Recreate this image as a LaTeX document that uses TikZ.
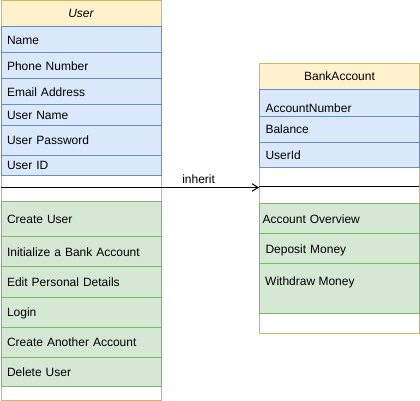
\documentclass[tikz,border=0pt]{standalone}
\usepackage{fontspec}
\setmainfont{Liberation Sans}
\usetikzlibrary{arrows.meta}
\definecolor{headfill}{HTML}{FFF2CC}
\definecolor{headline}{HTML}{D6B656}
\definecolor{attrfill}{HTML}{DAE8FC}
\definecolor{attrline}{HTML}{6C8EBF}
\definecolor{opfill}{HTML}{D5E8D4}
\definecolor{opline}{HTML}{82B366}

\begin{document}
\begin{tikzpicture}[x=1pt,y=-1pt,
font=\fontsize{12}{14}\selectfont,
classnode/.style={draw=headline, fill=white, line width=1pt, anchor=north west, minimum width=160pt, inner sep=0pt,},
headnode/.style={classnode, fill=headfill,},
attrnode/.style={draw=attrline, fill=attrfill, line width=1pt, anchor=north west, text width=148pt, align=left, inner xsep=6pt, inner ysep=0pt, text height=9.6pt, text depth=0pt,},
opnode/.style={attrnode, draw=opline, fill=opfill,},
inheritarrow/.style={line width=1pt, -{Straight Barb[length=6pt,width=7.5pt]},}
]
    \useasboundingbox (0,0) rectangle (420,401);

    \node [classnode, minimum height=399.5pt] (user) at (0.5,0.5) {};
    \node [headnode, minimum height=25.5pt, font=\fontsize{12}{14}\selectfont\itshape] (userhead) at (0.5,0.5) {User};

    \node [attrnode, minimum height=26pt] (name) at (0.5,26) {Name};
    \node [attrnode, minimum height=26pt] (phone) at (0.5,52) {Phone Number};
    \node [attrnode, minimum height=26pt] (email) at (0.5,78) {Email Address};
    \node [attrnode, minimum height=20.6pt] (uname) at (0.5,104) {User Name};
    \node [attrnode, minimum height=30pt] (upass) at (0.5,124.6) {User Password};
    \node [attrnode, minimum height=20pt] (uid) at (0.5,154.6) {User ID};

    \node [opnode, minimum height=35pt] (create) at (0.5,200.7) {Create User};
    \node [opnode, minimum height=30.3pt] (initbank) at (0.5,235.7) {Initialize a Bank Account};
    \node [opnode, minimum height=30.5pt] (edit) at (0.5,266) {Edit Personal Details};
    \node [opnode, minimum height=30pt] (login) at (0.5,296.5) {Login};
    \node [opnode, minimum height=30pt] (another) at (0.5,326.5) {Create Another Account};
    \node [opnode, minimum height=29.5pt] (delete) at (0.5,356.5) {Delete User};

    \node [classnode, minimum height=270pt] (bank) at (259,63.3) {};
    \node [headnode, minimum height=25.7pt] (bankhead) at (259,63.3) {BankAccount};

    \node [attrnode, minimum height=26.7pt, text height=18.4pt] (accnum) at (259,89) {AccountNumber};
    \node [attrnode, minimum height=26pt] (balance) at (259,115.7) {Balance};
    \node [attrnode, minimum height=25.6pt] (userid) at (259,141.7) {UserId};

    \node [opnode, minimum height=30pt, inner xsep=3pt, text width=154pt] (overview) at (259,203.3) {Account Overview};
    \node [opnode, minimum height=30pt] (deposit) at (259,233.3) {Deposit Money};
    \node [opnode, minimum height=50pt] (withdraw) at (259,263.3) {};
    \node [anchor=west, inner sep=0pt, text height=9.6pt, text depth=0pt] (withdrawtxt) at (265,280.7) {Withdraw Money};

    \coordinate (usersepw) at (0.5,187.5);
    \coordinate (usersepe) at (160.5,187.5);
    \coordinate (bankin) at (259,187.5);
    \coordinate (banksepw) at (259,186);
    \coordinate (bankspe) at (419,186);

    \draw [line width=1pt] (usersepw) -- (usersepe);
    \draw [line width=1pt] (banksepw) -- (bankspe);
    \draw [inheritarrow] (usersepe) -- (bankin) node [pos=0.387, above=3pt, inner sep=0pt] (inheritlbl) {inherit};
\end{tikzpicture}
\end{document}
